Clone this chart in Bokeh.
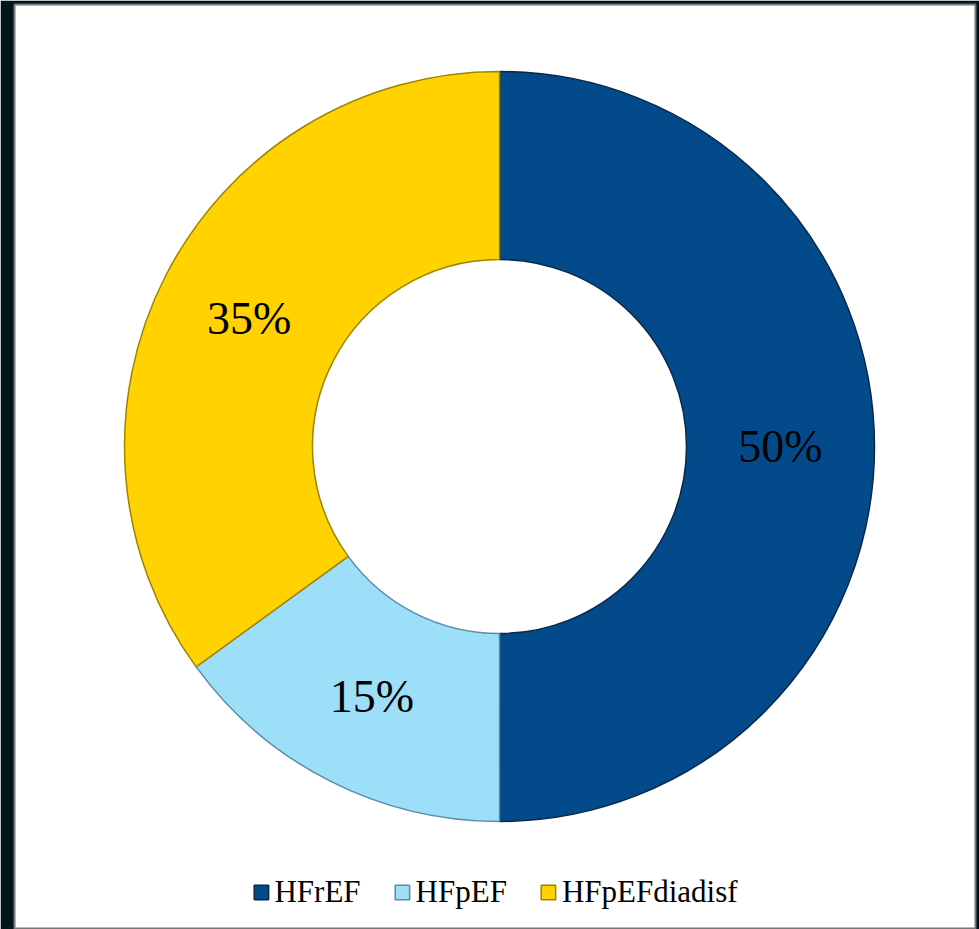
import math
from bokeh.plotting import figure
from bokeh.models import ColumnDataSource
from bokeh.core.properties import value
from bokeh.embed import file_html
from bokeh.resources import INLINE

# ---- data ----
categories = ["HFrEF", "HFpEF", "HFpEFdiadisf"]
shares = [50, 15, 35]
labels = ["50%", "15%", "35%"]
fill_colors = ["#034a8b", "#9ddff8", "#ffd200"]
line_colors = ["#0b2748", "#5b8ca4", "#9c8500"]

# ---- geometry (pixels == data units) ----
R_OUT = 375
R_IN = 187
R_LBL = (R_OUT + R_IN) / 2

total = float(sum(shares))
starts, ends, lx, ly = [], [], [], []
cum = 0.0
for s in shares:
    a_end = math.pi / 2 - 2 * math.pi * cum / total
    cum += s
    a_start = math.pi / 2 - 2 * math.pi * cum / total
    starts.append(a_start)
    ends.append(a_end)
    mid = (a_start + a_end) / 2
    lx.append(R_LBL * math.cos(mid))
    ly.append(R_LBL * math.sin(mid))

src = ColumnDataSource(dict(
    category=categories, start=starts, end=ends,
    fill=fill_colors, line=line_colors,
    x=[0] * len(categories), y=[0] * len(categories),
))
lsrc = ColumnDataSource(dict(x=lx, y=ly, text=labels))

W, H = 979, 929
p = figure(width=W, height=H, output_backend="svg", toolbar_location=None,
           x_axis_location=None, y_axis_location=None,
           x_range=(-485, 476), y_range=(-483, 442),
           min_border_left=14, min_border_right=4,
           min_border_top=4, min_border_bottom=0)
p.grid.visible = False
p.background_fill_color = "white"
p.border_fill_color = "#02151d"
p.outline_line_color = "#777777"
p.outline_line_width = 2

p.annular_wedge(x="x", y="y", inner_radius=R_IN, outer_radius=R_OUT,
                start_angle="start", end_angle="end",
                fill_color="fill", line_color="line", line_width=1.5,
                source=src, legend_field="category")

p.text(x="x", y="y", text="text", source=lsrc,
       text_font=value("Liberation Serif"), text_font_size="46px",
       text_color="black", text_align="center", text_baseline="middle")

leg = p.legend[0]
leg.location = "bottom_center"
leg.orientation = "horizontal"
leg.border_line_color = None
leg.background_fill_alpha = 0
leg.glyph_width = 18
leg.glyph_height = 18
leg.label_text_font = "Liberation Serif"
leg.label_text_font_size = "31px"
leg.label_text_color = "black"
leg.label_standoff = 5
leg.spacing = 32
leg.padding = 0
leg.margin = 19

open("out.html", "w").write(file_html(p, INLINE))
